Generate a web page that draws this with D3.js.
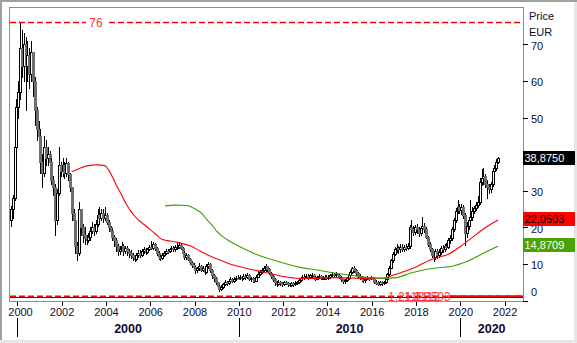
<!DOCTYPE html>
<html>
<head>
<meta charset="utf-8">
<script src="https://cdn.jsdelivr.net/npm/d3@7/dist/d3.min.js"></script>
<style>
  html, body { margin: 0; padding: 0; background: #fff; }
  svg { display: block; font-family: "Liberation Sans", Arial, sans-serif; }
</style>
</head>
<body>
<svg id="chart" width="577" height="343"></svg>
<script>
// ---- Monthly OHLC, Sep 1999 .. Sep 2021 (EUR); open = previous close ----
const firstYear = 1999, firstMonth = 9;
const firstOpen = 22;
const close = [
  25, 28, 42, 53,                                              // 1999 Sep-Dec
  57, 69, 64, 70, 64, 67, 62, 68, 60, 52, 47, 45,              // 2000
  38, 35, 42, 39, 40, 38, 33, 31, 22, 29.5, 37, 35.5,          // 2001
  37, 35, 37.5, 34.5, 31, 24, 22, 15, 13, 25, 20, 18,          // 2002
  17, 16.5, 17.5, 19, 20, 19, 21, 23.5, 22.5, 24, 22.5, 23.5,  // 2003
  21.5, 20, 19, 17.5, 16.5, 15, 13.5, 14, 15, 13.5, 14.5, 13.5,// 2004
  13, 12.5, 12, 11.5, 12.5, 13, 12.5, 13.5, 14, 13.2, 14, 14.8,// 2005
  14.5, 15.5, 14.5, 13, 12, 11.8, 12.5, 13, 13.6, 13.5, 14, 14.3, // 2006
  14, 14.6, 14.8, 15.2, 14.5, 13, 12, 12.5, 11.5, 10.5, 9.8, 9.2, // 2007
  8.4, 8.8, 9.5, 8.5, 9, 7.8, 9.5, 10, 8.5, 7, 6.2, 5,         // 2008
  4, 3.2, 3.8, 4.5, 5, 4.8, 5.5, 5.8, 5.5, 6, 6.3, 6.2,        // 2009
  6.5, 6.2, 6.8, 6.5, 7, 6, 6.2, 5.8, 5.5, 6.5, 7.2, 7.8,      // 2010
  8.5, 8.8, 9.4, 8.6, 7.6, 6.8, 6, 5, 4.6, 5, 4.8, 4.5,        // 2011
  5, 4.9, 4.6, 4.4, 4.8, 4.5, 4.9, 5, 5.6, 6.2, 6.6, 6.4,      // 2012
  6.8, 6.5, 6.9, 7, 6.4, 6, 6.4, 6.8, 6.2, 6.3, 6.6, 6.2,      // 2013
  6.6, 7, 7.3, 7.1, 7.4, 7, 6.6, 5.8, 5.3, 5.6, 6.2, 7,        // 2014
  7.8, 8.8, 8.4, 7.5, 6.8, 6.4, 6, 5.6, 6, 6.3, 6.1, 6.4,      // 2015
  5.8, 5.2, 5, 4.6, 5, 4.7, 5, 5.8, 7.2, 9, 11, 12.8,          // 2016
  14.2, 14.5, 14, 14.8, 14.2, 14.8, 14.4, 15, 20, 19.5, 18.8, 20, // 2017
  19.5, 18.5, 19.8, 20.5, 19.5, 17.5, 15.5, 14, 12.5, 12, 13.5, 12.5, // 2018
  13.2, 14.5, 14, 15, 14.6, 16.5, 17, 19.5, 22, 24.5, 25.5, 24.8, // 2019
  25.5, 23.5, 18.5, 20.5, 22, 23, 24.5, 25.2, 26.2, 27, 32.5, 33.5, // 2020
  34, 32, 31, 30.5, 31.8, 35.5, 36.3, 38, 38.875               // 2021 Jan-Sep
];
const high = [
  26, 29, 43.5, 55,
  60, 76, 74, 73, 72, 71, 69, 71, 68, 61, 53, 49,
  47, 40, 45, 44, 42, 41, 39, 34, 32, 30.5, 42, 38,
  39, 38, 39, 38, 35, 31, 25, 22, 16, 27, 25, 21,
  20, 18, 18.5, 20, 21.5, 21, 22, 25, 25.5, 25, 25, 25.5,
  24, 22, 20.5, 19.5, 18, 17, 15.5, 15, 16, 15.5, 15, 15,
  14, 13.8, 13, 12.5, 13, 13.8, 13.8, 14, 14.6, 14.5, 14.5, 15.3,
  16.4, 16, 15.8, 14.8, 13.5, 12.5, 13, 13.5, 14, 14.2, 14.5, 15,
  15, 15.2, 16, 16, 15.6, 14.8, 13.5, 13, 12.8, 11.8, 10.8, 10.2,
  9.4, 9.2, 10.2, 9.8, 9.5, 9.2, 10, 10.6, 10.2, 8.6, 7.2, 6.4,
  5.2, 4.2, 4.2, 4.8, 5.6, 5.4, 5.9, 6.4, 6.2, 6.4, 6.8, 7,
  7, 6.8, 7.2, 7.2, 7.6, 7.2, 6.6, 6.5, 6.2, 7, 8, 8.4,
  9, 9.6, 9.9, 9.5, 8.8, 7.8, 7, 6.2, 5.4, 5.6, 5.4, 5.2,
  5.4, 5.5, 5.2, 4.9, 5.1, 5, 5.3, 5.4, 6, 6.6, 7, 7.2,
  7.2, 7.2, 7.4, 7.6, 7.2, 6.8, 6.8, 7.2, 7, 6.8, 7, 6.9,
  7, 7.4, 7.8, 7.6, 7.8, 7.6, 7.2, 6.8, 6, 6, 6.6, 7.4,
  8.4, 9.3, 9.5, 8.6, 7.8, 7.2, 6.8, 6.4, 6.4, 6.8, 6.6, 6.8,
  6.6, 6, 5.6, 5.3, 5.4, 5.3, 5.4, 6.2, 7.6, 9.4, 11.5, 13.2,
  14.8, 15.6, 15, 15.5, 15.4, 15.3, 15.6, 15.8, 20.6, 22, 20.4, 20.8,
  21, 20.2, 20.5, 22.8, 21.2, 20, 17.8, 16, 14.5, 13.5, 14, 14,
  14, 15, 15.2, 15.6, 15.8, 17, 18, 20, 22.6, 25.2, 27.5, 26.4,
  26.4, 26.2, 24, 21.5, 23, 27.4, 25.6, 26, 27, 28.5, 33.5, 36,
  36.3, 34.6, 33, 32, 32.5, 36.2, 37, 38.6, 39.2
];
const low = [
  20.5, 22.5, 27.5, 40,
  50, 55, 61, 60, 52, 60, 58, 60, 56, 48, 44, 40,
  35, 31, 34, 37, 37, 36, 32, 29, 18, 21, 29, 34,
  34, 33.5, 34, 33, 30, 22, 18, 13, 11, 12.5, 18, 16,
  15.5, 15.5, 16, 16.5, 18.5, 18, 18.5, 20.5, 21.5, 22, 21.5, 22,
  21, 19, 18, 16.5, 15, 13.5, 12.5, 12.8, 13.5, 12.5, 13, 12.5,
  12, 11.8, 11.2, 10.8, 11, 12, 12, 12.2, 13, 12.8, 13, 13.8,
  14, 14.2, 13.8, 12.5, 11.5, 11.2, 11.5, 12.2, 12.8, 13, 13.2, 13.8,
  13.5, 13.6, 14, 14.5, 14, 12.6, 11.5, 11.5, 11, 10, 9.2, 8.6,
  7.6, 7.8, 8.5, 8, 8.2, 7.4, 7.6, 9, 7.8, 6.2, 5.4, 4.5,
  3.5, 2.6, 2.8, 3.6, 4.2, 4.2, 4.6, 5.2, 5, 5.2, 5.6, 5.8,
  5.8, 5.6, 6, 6, 6.2, 5.6, 5.4, 5.2, 5, 5.4, 6.4, 7,
  7.6, 8, 8.2, 8.2, 7.2, 6.2, 5.4, 4.2, 3.9, 4.2, 4.2, 4,
  4.2, 4.5, 4, 3.9, 4.1, 4, 4.2, 4.5, 4.9, 5.4, 5.9, 6,
  6.2, 6, 6.2, 6.4, 6, 5.6, 5.8, 6.1, 5.8, 5.8, 6, 5.8,
  6, 6.3, 6.7, 6.6, 6.8, 6.5, 6.2, 5.4, 4.8, 4.9, 5.4, 6,
  6.8, 7.6, 7.8, 7, 6.4, 5.8, 5.5, 5.1, 5.2, 5.8, 5.6, 5.8,
  5.4, 4.8, 4.5, 4.2, 4.3, 4.2, 4.5, 4.9, 5.6, 7, 8.8, 10.6,
  12.4, 13.2, 13, 13.4, 13.5, 13.6, 13.8, 14, 14.5, 18.5, 18, 18.2,
  18.5, 17.6, 18, 19.5, 18.8, 17, 15, 13.5, 12, 10.8, 11.5, 11.6,
  12, 12.8, 13.2, 13.6, 14, 14.4, 15.8, 16.6, 19, 21.5, 24, 24,
  23.8, 22.5, 15.2, 17.5, 19.5, 21, 22, 24, 24.8, 25.6, 26.5, 31.5,
  31.8, 31, 28, 29.5, 29.8, 31.2, 34.5, 35.8, 37.6
];

// ---- Moving averages (decimal year, value) ----
const maShortT = [2002.456, 2002.83, 2003.19, 2003.6, 2003.96, 2004.11, 2004.32, 2004.50, 2004.71, 2004.86,
  2005.09, 2005.31, 2005.62, 2005.99, 2006.22, 2006.52, 2006.89, 2007.33, 2007.80, 2008.25, 2008.70,
  2009.15, 2009.75, 2010.51, 2011.26, 2012.01, 2012.76, 2013.5, 2014.25, 2015.0, 2015.77, 2016.52,
  2016.98, 2017.43, 2018.03, 2018.63, 2019.08, 2019.39, 2019.99, 2020.59, 2021.19, 2021.708];
const maShortV = [35.2, 36.2, 36.9, 37.1, 36.9, 35.8, 33.5, 31.2, 28.9, 27.0,
  24.8, 23.0, 21.3, 19.5, 18.3, 16.8, 16.3, 15.8, 15.0, 13.6, 12.2,
  11.1, 9.75, 8.6, 7.65, 6.6, 6.1, 6.1, 6.3, 6.2, 6.1, 6.2,
  7.0, 7.9, 9.3, 11.1, 12.0, 12.5, 14.75, 17.5, 20.2, 22.0503];
const maLongT = [2006.67, 2007.12, 2007.65, 2008.10, 2008.25, 2008.55, 2008.85, 2009.0, 2009.45, 2009.90,
  2010.36, 2010.81, 2011.56, 2012.76, 2013.52, 2014.27, 2015.02, 2015.77, 2016.52, 2017.13, 2017.73,
  2018.33, 2018.78, 2019.68, 2020.29, 2020.89, 2021.34, 2021.708];
const maLongV = [25.9, 26.1, 26.0, 24.8, 24.3, 22.2, 20.2, 19.0, 16.8, 15.2,
  13.85, 12.6, 11.1, 9.1, 8.4, 7.65, 7.0, 6.4, 6.1, 6.3, 7.5,
  8.4, 8.85, 9.5, 10.7, 12.5, 13.85, 14.8709];

// ---- Axis ticks and labels ----
const yTicks = [0, 10, 20, 30, 40, 50, 60, 70];
const xTicks = [2000, 2002, 2004, 2006, 2008, 2010, 2012, 2014, 2016, 2018, 2020, 2022];
const decades = [2000, 2010, 2020];
const decadeEnd = 2022.83;
const maxLevel = 76;
const minLevel = 1.2112;
const supportLevel = 1.2503;
const supportStart = 2019.5;
const levelLabels = ["1,2112", "1,2112", "1,2503"];
const lastValues = [
  { value: 38.875,  text: "38,8750", fill: "#000000", color: "#ffffff" },
  { value: 22.0503, text: "22,0503", fill: "#ff0000", color: "#000000" },
  { value: 14.8709, text: "14,8709", fill: "#4aa300", color: "#ffffff" }
];

// ---- Layout ----
const W = 577, H = 343;
const plot = { left: 9, top: 8, right: 523, bottom: 301.5 };
const x = d3.scaleLinear().domain([2000, 2020]).range([17.3, 460.3]);
const y = d3.scaleLinear().domain([0, 76]).range([300.7, 22.5]);
const textCol = "#0c0c30";

const svg = d3.select("#chart");

// window border
svg.append("rect").attr("x", 0).attr("y", 0).attr("width", W).attr("height", H).attr("fill", "#ffffff");
svg.append("rect").attr("x", 0).attr("y", 0).attr("width", W).attr("height", 2).attr("fill", "#a0a0a0");
svg.append("rect").attr("x", 0).attr("y", 0).attr("width", 2).attr("height", H).attr("fill", "#a0a0a0");
svg.append("rect").attr("x", 0).attr("y", H - 3).attr("width", W).attr("height", 3).attr("fill", "#e6e6e6");
svg.append("rect").attr("x", W - 3).attr("y", 2).attr("width", 3).attr("height", H - 2).attr("fill", "#e6e6e6");

// candle records
const candles = close.map((c, i) => {
  const m = firstMonth - 1 + i;
  const t = firstYear + (m + 0.5) / 12;
  const o = i === 0 ? firstOpen : close[i - 1];
  return { t, o, c, h: high[i], l: low[i] };
});

const plotG = svg.append("g");

// level lines near the bottom
plotG.append("line")
  .attr("x1", plot.left).attr("x2", plot.right)
  .attr("y1", Math.round(y(0.95)) + 0.5).attr("y2", Math.round(y(0.95)) + 0.5)
  .attr("stroke", "#202020").attr("stroke-width", 1);
plotG.append("line")
  .attr("x1", plot.left + 1).attr("x2", plot.right)
  .attr("y1", y(minLevel)).attr("y2", y(minLevel))
  .attr("stroke", "#ff0000").attr("stroke-width", 1.6).attr("stroke-dasharray", "6,3");
plotG.append("line")
  .attr("x1", x(supportStart)).attr("x2", plot.right)
  .attr("y1", y(supportLevel)).attr("y2", y(supportLevel))
  .attr("stroke", "#ff0000").attr("stroke-width", 1.6);

// max level line with label
plotG.append("line")
  .attr("x1", plot.left + 1).attr("x2", plot.right)
  .attr("y1", y(maxLevel)).attr("y2", y(maxLevel))
  .attr("stroke", "#ff0000").attr("stroke-width", 1.6).attr("stroke-dasharray", "6,3");
plotG.append("rect").attr("x", 86).attr("y", y(maxLevel) - 6).attr("width", 20).attr("height", 12).attr("fill", "#fff");
plotG.append("text").attr("x", 96).attr("y", y(maxLevel)).attr("dy", "0.36em")
  .attr("text-anchor", "middle").attr("font-size", 12).attr("fill", "#ff3a3a").text(String(maxLevel));

// candles: wick first, then body
const cg = plotG.append("g").attr("shape-rendering", "crispEdges");
candles.forEach(d => {
  const cx = Math.round(x(d.t));
  const hi = Math.max(d.h, d.o, d.c), lo = Math.min(d.l, d.o, d.c);
  cg.append("line")
    .attr("x1", cx + 0.5).attr("x2", cx + 0.5)
    .attr("y1", Math.round(y(hi))).attr("y2", Math.round(y(lo)) + 1)
    .attr("stroke", "#000").attr("stroke-width", 1);
  const top = Math.round(y(Math.max(d.o, d.c)));
  const bot = Math.round(y(Math.min(d.o, d.c)));
  if (d.c >= d.o) {
    cg.append("rect")
      .attr("x", cx - 0.5).attr("y", top + 0.5)
      .attr("width", 2).attr("height", Math.max(1, bot - top))
      .attr("fill", "#fff").attr("stroke", "#000").attr("stroke-width", 1);
  } else {
    cg.append("rect")
      .attr("x", cx - 1).attr("y", top)
      .attr("width", 3).attr("height", Math.max(2, bot - top + 1))
      .attr("fill", "#6e6e6e");
  }
});

// moving averages
const line = d3.line().x(d => x(d[0])).y(d => y(d[1])).curve(d3.curveMonotoneX);
plotG.append("path").datum(d3.zip(maShortT, maShortV)).attr("d", line)
  .attr("fill", "none").attr("stroke", "#ff0000").attr("stroke-width", 1.1);
plotG.append("path").datum(d3.zip(maLongT, maLongV)).attr("d", line)
  .attr("fill", "none").attr("stroke", "#3f9f00").attr("stroke-width", 1.1);

// bottom level labels
const lvlX = [388, 404, 414];
levelLabels.forEach((s, i) => {
  plotG.append("text").attr("x", lvlX[i]).attr("y", y(minLevel)).attr("dy", "0.36em")
    .attr("font-size", 12).attr("fill", "#ff3a3a").text(s);
});

// plot frame
svg.append("rect")
  .attr("x", plot.left + 0.5).attr("y", plot.top - 0.5)
  .attr("width", plot.right - plot.left).attr("height", plot.bottom - plot.top + 0.5)
  .attr("fill", "none").attr("stroke", "#8c8c98").attr("stroke-width", 1)
  .attr("shape-rendering", "crispEdges");

// right price axis
const yAxis = d3.axisRight(y).tickValues(yTicks).tickSize(5).tickPadding(3).tickFormat(d3.format("d"));
const yg = svg.append("g").attr("transform", `translate(${plot.right},0)`).call(yAxis);
yg.select(".domain").remove();
yg.selectAll("line").attr("stroke", "#000").attr("shape-rendering", "crispEdges");
yg.selectAll("text").attr("font-size", 11).attr("fill", textCol).attr("font-family", "Liberation Sans, Arial, sans-serif")
  .attr("dy", d => d === 0 ? "-0.45em" : "0.42em");

svg.append("text").attr("x", 529).attr("y", 16).attr("dy", "0.35em").attr("font-size", 11).attr("fill", textCol).text("Price");
svg.append("text").attr("x", 529).attr("y", 32).attr("dy", "0.35em").attr("font-size", 11).attr("fill", textCol).text("EUR");

// last-value boxes
lastValues.forEach(v => {
  const cy = y(v.value) - 0.8;
  svg.append("rect").attr("x", plot.right).attr("y", Math.round(cy - 7)).attr("width", 52).attr("height", 14)
    .attr("fill", v.fill);
  svg.append("text").attr("x", plot.right + 1.5).attr("y", cy).attr("dy", "0.36em")
    .attr("font-size", 11).attr("fill", v.color).text(v.text);
});

// bottom time axis
const xAxis = d3.axisBottom(x).tickValues(xTicks).tickSize(4).tickPadding(3).tickFormat(d3.format("d"));
const xg = svg.append("g").attr("transform", `translate(0,${plot.bottom})`).call(xAxis);
xg.select(".domain").remove();
xg.selectAll("line").attr("stroke", "#000").attr("shape-rendering", "crispEdges");
xg.selectAll("text").attr("font-size", 11).attr("fill", textCol).attr("font-family", "Liberation Sans, Arial, sans-serif")
  .attr("x", d => d === 2000 ? 2.7 : 0);

// decade band
decades.forEach((d, i) => {
  const x0 = x(d);
  const x1 = i < decades.length - 1 ? x(decades[i + 1]) : x(decadeEnd);
  svg.append("line").attr("x1", Math.round(x0) + 0.5).attr("x2", Math.round(x0) + 0.5)
    .attr("y1", 318).attr("y2", 337).attr("stroke", "#000").attr("shape-rendering", "crispEdges");
  svg.append("text").attr("x", (x0 + x1) / 2).attr("y", 328).attr("dy", "0.36em")
    .attr("text-anchor", "middle").attr("font-size", 12.5).attr("font-weight", "bold")
    .attr("fill", textCol).text(String(d));
});
</script>
</body>
</html>
